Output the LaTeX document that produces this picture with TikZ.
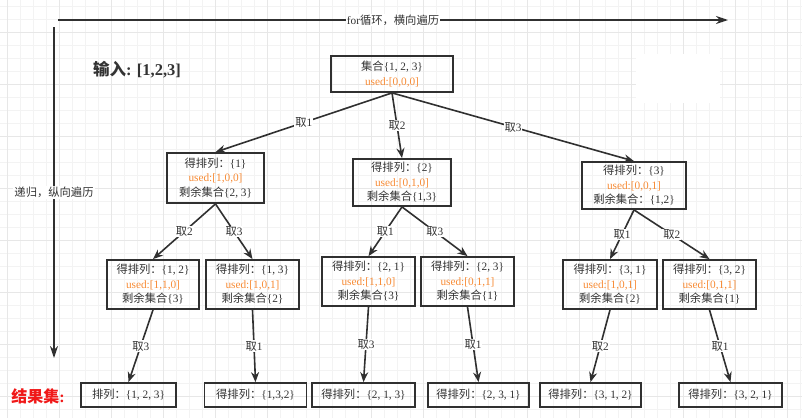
\documentclass[tikz,border=0pt]{standalone}
\usepackage{fontspec}
\setmainfont{Liberation Serif}
\newfontfamily\zhfont{Noto Sans CJK SC}
\newcommand{\zh}[1]{{\zhfont #1}}
\usetikzlibrary{arrows.meta}
\definecolor{edgegray}{HTML}{303030}
\definecolor{textgray}{HTML}{333333}
\definecolor{usedorange}{HTML}{F78B35}
\definecolor{gridminor}{HTML}{F3F3F3}
\definecolor{gridmajor}{HTML}{E7E7E7}
\definecolor{resultred}{HTML}{F01818}
\newcommand{\used}[1]{\textcolor{usedorange}{used:[#1]}}
\tikzset{
  statebox/.style={draw=edgegray, line width=1.8pt, rectangle, align=center, text=textgray, font=\fontsize{11.3}{14.5}\selectfont, inner sep=1pt},
  pick/.style={-{Stealth[length=10pt,width=8pt]}, draw=edgegray, line width=1.6pt},
  picklabel/.style={midway, fill=white, text=textgray, font=\fontsize{11.3}{13}\selectfont, inner sep=1pt},
  walk/.style={-{Stealth[length=12pt,width=8pt]}, draw=edgegray, line width=1.7pt},
}

\begin{document}
\begin{tikzpicture}[x=1pt, y=-1pt]
        \useasboundingbox (0,0) rectangle (802,418);
        % Grid
        \foreach \k in {0,...,61} \draw[gridminor, line width=0.8pt] ({7+13*\k},0) -- ({7+13*\k},418);
        \foreach \k in {0,...,31} \draw[gridminor, line width=0.8pt] (0,{6.7+13*\k}) -- (802,{6.7+13*\k});
        \foreach \k in {0,4,...,60} \draw[gridmajor, line width=0.9pt] ({7+13*\k},0) -- ({7+13*\k},418);
        \foreach \k in {2,6,...,30} \draw[gridmajor, line width=0.9pt] (0,{6.7+13*\k}) -- (802,{6.7+13*\k});
        \fill[white] (636,54) rectangle (720,103);

        % Traversal directions
        \coordinate (hstart) at (58,20);
        \coordinate (hend) at (728,20);
        \coordinate (vstart) at (54,27);
        \coordinate (vend) at (54,358);
        \draw[walk] (hstart) -- (hend) node[picklabel] {for\zh{循环，横向遍历}};
        \draw[walk] (vstart) -- (vend) node[picklabel] {\zh{递归，纵向遍历}};

        % Titles
        \node[text=textgray, font=\fontsize{16.5}{18}\selectfont\bfseries] (input) at (137,70) {\zh{输入}: [1,2,3]};
        \node[text=resultred, font=\fontsize{16}{18}\selectfont\bfseries] (result) at (38,396) {\zh{结果集}:};

        % Nodes
        \node[statebox, minimum width=122pt, minimum height=36pt] (root) at (392,74) {\zh{集合}\{1, 2, 3\}\\\used{0,0,0}};

        \node[statebox, minimum width=97pt, minimum height=50pt] (l1a) at (215.5,178) {\zh{得排列：}\{1\}\\\used{1,0,0}\\\zh{剩余集合}\{2, 3\}};
        \node[statebox, minimum width=98pt, minimum height=47pt] (l1b) at (402,182.5) {\zh{得排列：}\{2\}\\\used{0,1,0}\\\zh{剩余集合}\{1,3\}};
        \node[statebox, minimum width=104pt, minimum height=47pt] (l1c) at (634,185.5) {\zh{得排列：}\{3\}\\\used{0,0,1}\\\zh{剩余集合：}\{1,2\}};

        \node[statebox, minimum width=92pt, minimum height=49pt] (l2a) at (153,284.5) {\zh{得排列：}\{1, 2\}\\\used{1,1,0}\\\zh{剩余集合}\{3\}};
        \node[statebox, minimum width=93pt, minimum height=49pt] (l2b) at (252.5,284.5) {\zh{得排列：}\{1, 3\}\\\used{1,0,1}\\\zh{剩余集合}\{2\}};
        \node[statebox, minimum width=93pt, minimum height=49pt] (l2c) at (368.5,281.5) {\zh{得排列：}\{2, 1\}\\\used{1,1,0}\\\zh{剩余集合}\{3\}};
        \node[statebox, minimum width=93pt, minimum height=49pt] (l2d) at (467.5,281.5) {\zh{得排列：}\{2, 3\}\\\used{0,1,1}\\\zh{剩余集合}\{1\}};
        \node[statebox, minimum width=94pt, minimum height=49pt] (l2e) at (610,284.5) {\zh{得排列：}\{3, 1\}\\\used{1,0,1}\\\zh{剩余集合}\{2\}};
        \node[statebox, minimum width=93pt, minimum height=49pt] (l2f) at (709.5,284.5) {\zh{得排列：}\{3, 2\}\\\used{0,1,1}\\\zh{剩余集合}\{1\}};

        \node[statebox, minimum width=95pt, minimum height=24pt] (l3a) at (128.5,395) {\zh{排列：}\{1, 2, 3\}};
        \node[statebox, minimum width=102pt, minimum height=24pt] (l3b) at (255.5,395) {\zh{得排列：}\{1,3,2\}};
        \node[statebox, minimum width=103pt, minimum height=24pt] (l3c) at (363.5,395) {\zh{得排列：}\{2, 1, 3\}};
        \node[statebox, minimum width=101pt, minimum height=24pt] (l3d) at (478.5,395) {\zh{得排列：}\{2, 3, 1\}};
        \node[statebox, minimum width=101pt, minimum height=24pt] (l3e) at (590.5,395) {\zh{得排列：}\{3, 1, 2\}};
        \node[statebox, minimum width=103pt, minimum height=24pt] (l3f) at (730.5,395) {\zh{得排列：}\{3, 2, 1\}};

        % Arrows
        \draw[pick] (root.south) -- (l1a.north) node[picklabel] {\zh{取}1};
        \draw[pick] (root.south) -- (l1b.north) node[picklabel] {\zh{取}2};
        \draw[pick] (root.south) -- (l1c.north) node[picklabel] {\zh{取}3};

        \draw[pick] (l1a.south) -- (l2a.north) node[picklabel] {\zh{取}2};
        \draw[pick] (l1a.south) -- (l2b.north) node[picklabel] {\zh{取}3};
        \draw[pick] (l1b.south) -- (l2c.north) node[picklabel] {\zh{取}1};
        \draw[pick] (l1b.south) -- (l2d.north) node[picklabel] {\zh{取}3};
        \draw[pick] (l1c.south) -- (l2e.north) node[picklabel] {\zh{取}1};
        \draw[pick] (l1c.south) -- (l2f.north) node[picklabel] {\zh{取}2};

        \draw[pick] (l2a.south) -- (l3a.north) node[picklabel] {\zh{取}3};
        \draw[pick] (l2b.south) -- (l3b.north) node[picklabel] {\zh{取}1};
        \draw[pick] (l2c.south) -- (l3c.north) node[picklabel] {\zh{取}3};
        \draw[pick] (l2d.south) -- (l3d.north) node[picklabel] {\zh{取}1};
        \draw[pick] (l2e.south) -- (l3e.north) node[picklabel] {\zh{取}2};
        \draw[pick] (l2f.south) -- (l3f.north) node[picklabel] {\zh{取}1};
    \end{tikzpicture}
\end{document}
